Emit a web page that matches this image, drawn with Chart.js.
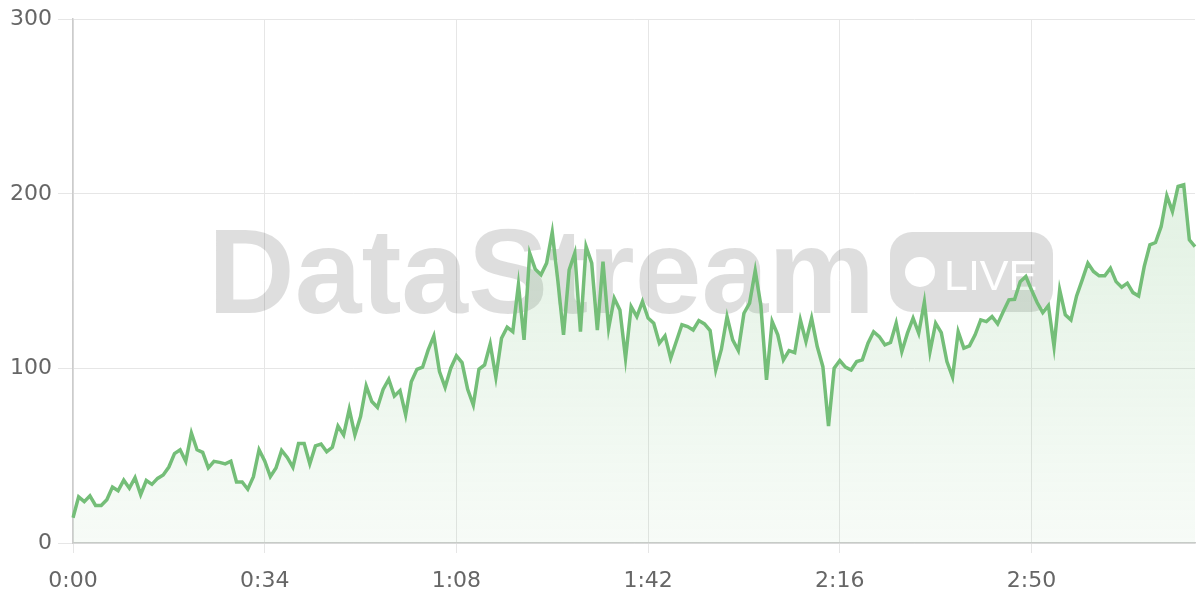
<!DOCTYPE html>
<html>
<head>
<meta charset="utf-8">
<script src="https://cdn.jsdelivr.net/npm/chart.js@4"></script>
<style>
  html, body { margin: 0; padding: 0; background: #fff; }
  #wrap { width: 1200px; height: 600px; position: relative; }
</style>
</head>
<body>
<div id="wrap"><canvas id="c" width="1200" height="600"></canvas></div>
<script>
// Values (one sample per second, 0:00 .. 3:19)
const values = [
  14.5, 26.4, 23.7, 27, 21.5, 21.5, 24.8, 32, 29.9, 36,
  31.4, 37.4, 27.7, 35.8, 33.6, 37, 39, 43.5, 51.2, 53.4,
  46.8, 63, 53.4, 51.9, 43, 46.8, 46.2, 45.3, 46.8, 35,
  35, 30.8, 38, 53.4, 47, 38, 43, 53, 49, 43.4,
  57, 57, 45.3, 55.6, 56.7, 52.3, 54.8, 67, 61.9, 76.6,
  61.9, 72.4, 90, 81, 77.7, 88, 93.8, 84.2, 87.3, 73.4,
  92.4, 99.5, 100.7, 110.6, 118.6, 98.2, 89.2, 100.1, 107.2, 103.3,
  88, 79, 99.5, 102, 114, 95, 117.3, 123.6, 121, 148,
  116.3, 166, 156.8, 153.6, 160.3, 178, 150, 119.2, 156.4, 166,
  121, 169.8, 160.3, 122, 161.2, 123, 140.2, 133.5, 105.8, 135.4,
  129.7, 138.3, 128.8, 125.9, 114.4, 118.6, 105.8, 115.4, 125, 124,
  122, 127.4, 125.5, 121.7, 99.1, 111, 129.7, 116.3, 110.2, 131.6,
  137.4, 156, 136, 93.4, 126.8, 119.2, 104.9, 110.2, 109, 127.8,
  115.4, 128.8, 112.5, 101, 67, 100.1, 104.5, 100.7, 99.1, 103.9,
  104.9, 114.4, 121, 118.2, 113.5, 114.8, 125.9, 109.6, 120.2, 128.8,
  120.2, 138, 109.6, 125.9, 120.5, 103.9, 95, 121, 111.6, 112.9,
  119.2, 127.8, 126.8, 129.7, 125.5, 132.6, 139.3, 139.6, 149.7, 152.6,
  145, 137.7, 132, 136, 112.5, 145, 130.7, 127.8, 141.5, 150.7,
  160.3, 155.5, 153, 153, 157.4, 149.7, 146.5, 148.8, 143.4, 141.5,
  158.4, 170.8, 172.1, 181.3, 198.9, 189.9, 204.2, 205.2, 173.6, 169.8
];
// Category labels: elapsed time m:ss for each sample
const timeLabels = values.map((_, i) => Math.floor(i / 60) + ':' + String(i % 60).padStart(2, '0'));
const tickEvery = 34;               // x tick label interval (samples)
const yTicks = [0, 100, 200, 300];  // y tick values
const watermarkText = 'DataStream';
const badgeText = 'LIVE';

const TICK_FONT = "'DejaVu Sans', Verdana, sans-serif";
const WM_FONT = "'Liberation Sans', Arial, sans-serif";
const lineColor = 'rgb(116, 190, 120)';

const watermark = {
  id: 'watermark',
  beforeDatasetsDraw(chart) {
    const ctx = chart.ctx;
    ctx.save();
    ctx.fillStyle = 'rgba(0,0,0,0.13)';
    ctx.font = 'bold 120px ' + WM_FONT;
    ctx.textBaseline = 'alphabetic';
    ctx.textAlign = 'left';
    ctx.fillText(watermarkText, 208, 313);
    // badge
    const bx = 890, by = 232, bw = 163, bh = 80, r = 22;
    ctx.beginPath();
    ctx.roundRect(bx, by, bw, bh, r);
    ctx.fill();
    ctx.fillStyle = '#ffffff';
    ctx.beginPath();
    ctx.arc(920, 272, 15, 0, Math.PI * 2);
    ctx.fill();
    ctx.font = '43px ' + WM_FONT;
    ctx.fillText(badgeText, 944, 290);
    ctx.restore();
  }
};

new Chart(document.getElementById('c'), {
  type: 'line',
  data: {
    labels: timeLabels,
    datasets: [{
      data: values,
      borderColor: lineColor,
      borderWidth: 3.5,
      pointRadius: 0,
      tension: 0,
      fill: 'origin',
      backgroundColor(context) {
        const { chart } = context;
        const area = chart.chartArea;
        if (!area) return 'rgba(116,190,120,0.1)';
        const g = chart.ctx.createLinearGradient(0, area.top, 0, area.bottom);
        g.addColorStop(0, 'rgba(116,190,120,0.28)');
        g.addColorStop(1, 'rgba(116,190,120,0.06)');
        return g;
      }
    }]
  },
  options: {
    responsive: false,
    animation: false,
    devicePixelRatio: 1,
    layout: { padding: { top: 19, right: 5, left: 0, bottom: 0 } },
    plugins: { legend: { display: false }, tooltip: { enabled: false } },
    scales: {
      x: {
        type: 'category',
        grid: { color: '#e6e6e6', lineWidth: 1, tickLength: 10, drawTicks: true },
        border: { color: '#cccccc', width: 1.5 },
        ticks: {
          autoSkip: false,
          maxRotation: 0,
          padding: 15,
          color: '#666',
          font: { family: TICK_FONT, size: 22 },
          callback(val, idx) { return idx % tickEvery === 0 ? timeLabels[idx] : null; }
        },
        afterFit(scale) { scale.height = 57; }
      },
      y: {
        min: 0, max: 300,
        afterBuildTicks(scale) { scale.ticks = yTicks.map(v => ({ value: v })); },
        grid: { color: '#e6e6e6', lineWidth: 1, tickLength: 15 },
        border: { color: '#cccccc', width: 1.5 },
        ticks: {
          padding: 6,
          color: '#666',
          font: { family: TICK_FONT, size: 22 }
        },
        afterFit(scale) { scale.width = 73; }
      }
    }
  },
  plugins: [watermark]
});
</script>
</body>
</html>
